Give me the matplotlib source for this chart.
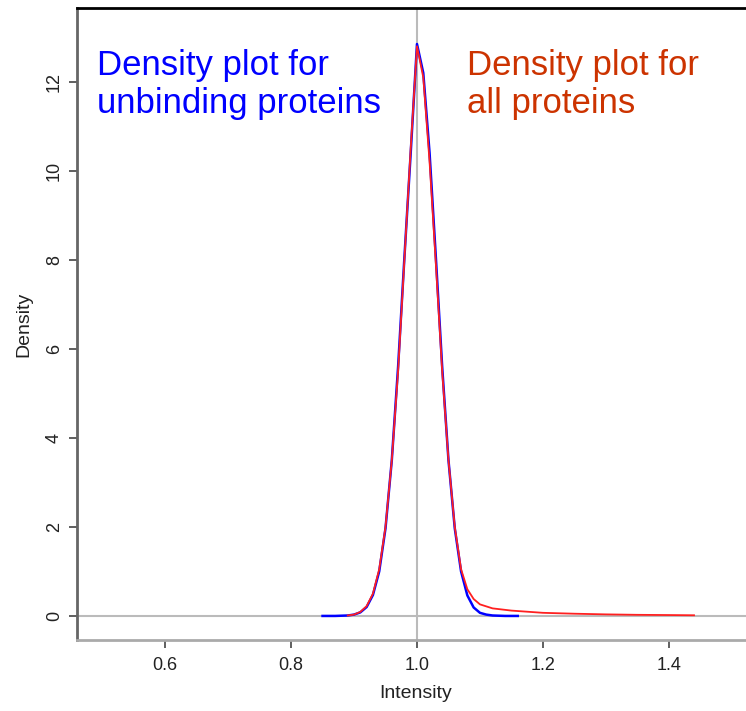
import matplotlib
matplotlib.use('Agg')
import matplotlib.pyplot as plt

plt.rcParams['font.family'] = ['Liberation Sans', 'DejaVu Sans']

# density curves
blue_x = [0.85, 0.87, 0.89, 0.90, 0.91, 0.92, 0.93, 0.94, 0.95, 0.96, 0.97,
          0.98, 0.99, 1.00, 1.01, 1.02, 1.03, 1.04, 1.05, 1.06, 1.07, 1.08,
          1.09, 1.10, 1.11, 1.12, 1.14, 1.16]
blue_y = [0.0, 0.0, 0.01, 0.03, 0.08, 0.2, 0.47, 1.0, 1.97, 3.5, 5.6,
          8.05, 10.4, 12.85, 12.2, 10.4, 8.05, 5.6, 3.5, 1.97, 1.0, 0.46,
          0.19, 0.07, 0.03, 0.01, 0.0, 0.0]

red_x = [0.89, 0.90, 0.91, 0.92, 0.93, 0.94, 0.95, 0.96, 0.97, 0.98, 0.99,
         1.00, 1.01, 1.02, 1.03, 1.04, 1.05, 1.06, 1.07, 1.08, 1.09, 1.10,
         1.12, 1.15, 1.18, 1.20, 1.25, 1.30, 1.35, 1.40, 1.44]
red_y = [0.01, 0.03, 0.09, 0.22, 0.5, 1.05, 2.0, 3.5, 5.5, 8.0, 10.5,
         12.8, 12.1, 10.2, 7.9, 5.5, 3.5, 2.0, 1.05, 0.6, 0.38, 0.26,
         0.17, 0.12, 0.09, 0.07, 0.05, 0.035, 0.025, 0.02, 0.015]

x_ticks = [0.6, 0.8, 1.0, 1.2, 1.4]
y_ticks = [0, 2, 4, 6, 8, 10, 12]

fig = plt.figure(figsize=(7.46, 7.11), dpi=100)
ax = fig.add_axes([0.1032, 0.0999, 0.909, 0.8889])

ax.axhline(0, color='#bbbbbb', lw=1.5, zorder=1)
ax.axvline(1.0, color='#bbbbbb', lw=1.5, zorder=1)
ax.plot(blue_x, blue_y, color='#0000ff', lw=1.8, zorder=2)
ax.plot(red_x, red_y, color='#ff2020', lw=1.3, zorder=3)

ax.set_xlim(0.46, 1.537)
ax.set_ylim(-0.54, 13.66)
ax.set_xticks(x_ticks)
ax.set_xticklabels(['%.1f' % v for v in x_ticks])
ax.set_yticks(y_ticks)
ax.set_yticklabels([str(v) for v in y_ticks], rotation=90, va='center')
ax.tick_params(direction='out', length=6, width=1.2, color='#444444',
               labelsize=13, labelcolor='#222222', pad=6)
ax.tick_params(axis='y', pad=4)

ax.spines['top'].set_color('black')
ax.spines['top'].set_linewidth(2)
ax.spines['left'].set_color('#666666')
ax.spines['left'].set_linewidth(2)
ax.spines['bottom'].set_color('#aaaaaa')
ax.spines['bottom'].set_linewidth(2)
ax.spines['right'].set_visible(False)

ax.set_xlabel('Intensity', fontsize=14, color='#222222', labelpad=8)
ax.set_ylabel('Density', fontsize=14, color='#222222', labelpad=10)

ax.text(0.491, 12.74, 'Density plot for\nunbinding proteins', color='#0000ff',
        fontsize=25, va='top', ha='left', linespacing=1.18)
ax.text(1.08, 12.74, 'Density plot for\nall proteins', color='#cc3300',
        fontsize=25, va='top', ha='left', linespacing=1.18)

fig.savefig('out.png', dpi=100)
